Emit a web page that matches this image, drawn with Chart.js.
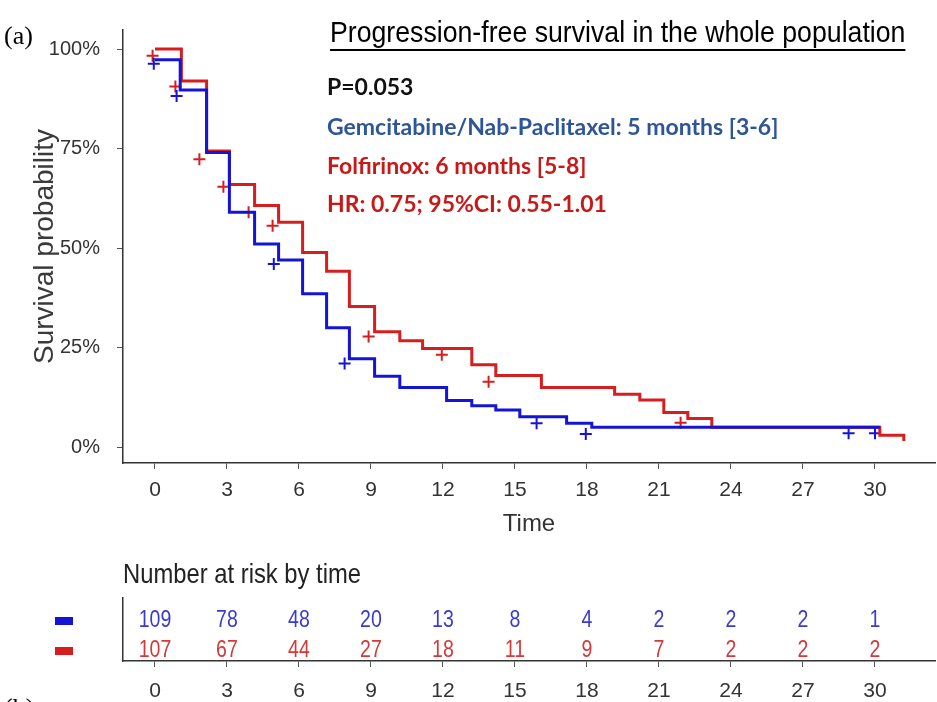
<!DOCTYPE html>
<html>
<head>
<meta charset="utf-8">
<script src="https://cdn.jsdelivr.net/npm/chart.js@4.4.1/dist/chart.umd.min.js"></script>
<style>
  html, body { margin: 0; padding: 0; background: #fff; }
  #wrap { position: relative; width: 937px; height: 702px; overflow: hidden; }
  #kmCanvas { position: absolute; left: 0; top: 0; }
  #riskCanvas { position: absolute; left: 0; top: 545px; }
</style>
</head>
<body>
<div id="wrap">
  <canvas id="kmCanvas" width="937" height="545"></canvas>
  <canvas id="riskCanvas" width="937" height="157"></canvas>
</div>
<script>
// time ticks (months)
const timeTicks = [0, 3, 6, 9, 12, 15, 18, 21, 24, 27, 30]
const survTicks = [0, 25, 50, 75, 100]

// Gemcitabine/Nab-Paclitaxel (blue) - step start times and survival (%)
const blueTime = [0, 1.05, 2.15, 3.1, 4.15, 5.15, 6.15, 7.15, 8.1, 9.15, 10.2, 12.15, 13.2, 14.2, 15.2, 17.15, 18.2, 30.2]
const blueSurv = [97.3, 89.7, 74, 59, 51, 47, 38.5, 30, 22.2, 17.8, 15, 11.7, 10.4, 9.3, 7.6, 6, 5, 5]
const blueCensorTime = [-0.05, 0.9, 4.95, 7.9, 15.9, 17.95, 28.9, 30]
const blueCensorSurv = [96.3, 88.2, 46, 21, 6, 3.3, 3.5, 3.5]

// Folfirinox (red)
const redTime = [0, 1.1, 2.15, 3.1, 4.15, 5.15, 6.15, 7.15, 8.1, 9.15, 10.2, 11.15, 13.2, 14.2, 16.1, 19.15, 20.2, 21.2, 22.2, 23.2, 30.2, 31.2]
const redSurv = [100, 92, 74.4, 66, 60.7, 56.5, 48.9, 44.2, 35.3, 29, 26.7, 24.8, 20.7, 18, 15, 13.3, 11.8, 8.7, 7.2, 5, 3, 1.5]
const redCensorTime = [-0.1, 0.85, 1.85, 2.85, 3.9, 4.9, 8.9, 11.95, 13.9, 21.9]
const redCensorSurv = [98.3, 90.6, 72.3, 65.4, 59, 55.6, 27.8, 23.2, 16.4, 6.1]

// number at risk
const blueRisk = [109, 78, 48, 20, 13, 8, 4, 2, 2, 2, 1]
const redRisk = [107, 67, 44, 27, 18, 11, 9, 7, 2, 2, 2]

const BLUE = '#1414d6'
const RED = '#d61e1e'
const sans = '"Liberation Sans", Arial, sans-serif'
const axisGrey = '#333'

const zip = (xs, ys) => xs.map((x, i) => ({ x: x, y: ys[i] }))

// squeeze text horizontally to look like Arial Narrow
function narrowText(c, txt, x, y, sx) {
  c.save()
  c.translate(x, y)
  c.scale(sx, 1)
  c.fillText(txt, 0, 0)
  const w = c.measureText(txt).width * sx
  c.restore()
  return w
}

const textPlugin = {
  id: 'kmText',
  afterDraw(chart) {
    const c = chart.ctx
    c.save()
    c.textBaseline = 'alphabetic'
    c.textAlign = 'left'
    c.fillStyle = '#000'
    c.font = '26px "Liberation Serif", "Times New Roman", serif'
    c.fillText('(a)', 4, 44)

    c.font = '29px ' + sans
    const w = narrowText(c, 'Progression-free survival in the whole population', 330, 42, 0.92)
    c.fillRect(330, 49, w, 2)

    c.font = 'bold 23px Lato, "Open Sans", sans-serif'
    c.fillStyle = '#111'
    c.fillText('P=0.053', 327, 95)
    c.fillStyle = '#2d5597'
    c.fillText('Gemcitabine/Nab-Paclitaxel: 5 months [3-6]', 327, 135)
    c.fillStyle = '#c81818'
    c.fillText('Folfirinox: 6 months [5-8]', 327, 174)
    c.fillText('HR: 0.75; 95%CI: 0.55-1.01', 327, 212)
    c.restore()
  }
}

const noPad = s => { s.paddingLeft = 0; s.paddingRight = 0 }

const kmChart = new Chart(document.getElementById('kmCanvas'), {
  type: 'line',
  data: {
    datasets: [
      { data: zip(blueTime, blueSurv), borderColor: BLUE, borderWidth: 3, stepped: 'before', pointRadius: 0, fill: false },
      { data: zip(redTime, redSurv), borderColor: RED, borderWidth: 3, stepped: 'before', pointRadius: 0, fill: false },
      { data: zip(blueCensorTime, blueCensorSurv), showLine: false, pointStyle: 'cross', pointRadius: 6, borderWidth: 2, borderColor: BLUE },
      { data: zip(redCensorTime, redCensorSurv), showLine: false, pointStyle: 'cross', pointRadius: 6, borderWidth: 2, borderColor: RED }
    ]
  },
  options: {
    responsive: false,
    animation: false,
    layout: { autoPadding: false, padding: { top: 30, right: 2, left: 0, bottom: 0 } },
    plugins: { legend: { display: false }, tooltip: { enabled: false } },
    scales: {
      x: {
        type: 'linear',
        min: -1.333,
        max: 32.5,
        afterBuildTicks: s => { s.ticks = timeTicks.map(v => ({ value: v })) },
        afterFit: s => { s.height = 82; noPad(s) },
        grid: { drawOnChartArea: false, tickLength: 6, color: '#555' },
        border: { color: axisGrey, width: 1.5 },
        ticks: { color: axisGrey, font: { family: sans, size: 21 }, padding: 9, maxRotation: 0 },
        title: { display: true, text: 'Time', color: axisGrey, font: { family: sans, size: 24 }, padding: { top: 0, bottom: 6 } }
      },
      y: {
        min: -4,
        max: 104.8,
        afterBuildTicks: s => { s.ticks = survTicks.map(v => ({ value: v })) },
        afterFit: s => { s.width = 123 },
        grid: { drawOnChartArea: false, tickLength: 6, color: '#555' },
        border: { color: axisGrey, width: 1.5 },
        ticks: { color: axisGrey, font: { family: sans, size: 20 }, padding: 17, callback: v => v + '%' },
        title: { display: true, text: 'Survival probability', color: '#3a3a3a', font: { family: sans, size: 28 }, padding: { top: 28, bottom: 0 } }
      }
    }
  },
  plugins: [textPlugin]
})

const riskPlugin = {
  id: 'riskText',
  afterDraw(chart) {
    const c = chart.ctx
    c.save()
    c.fillStyle = '#222'
    c.font = '28px ' + sans
    c.textAlign = 'left'
    c.textBaseline = 'alphabetic'
    narrowText(c, 'Number at risk by time', 123, 38, 0.85)

    const rows = [[0, BLUE, '#3a3ad0', blueRisk], [1, RED, '#d03a3a', redRisk]]
    c.font = '23px ' + sans
    c.textAlign = 'center'
    c.textBaseline = 'middle'
    rows.forEach(([di, lineCol, txtCol, vals]) => {
      const meta = chart.getDatasetMeta(di)
      c.fillStyle = txtCol
      meta.data.forEach((pt, j) => narrowText(c, String(vals[j]), pt.x, pt.y, 0.85))
      const py = meta.data[0].y
      c.fillStyle = lineCol
      c.fillRect(55, py - 4, 18, 8)
    })

    c.fillStyle = '#000'
    c.textAlign = 'left'
    c.textBaseline = 'alphabetic'
    c.font = '26px "Liberation Serif", "Times New Roman", serif'
    c.fillText('(b)', 4, 171)
    c.restore()
  }
}

const riskChart = new Chart(document.getElementById('riskCanvas'), {
  type: 'scatter',
  data: {
    datasets: [
      { data: timeTicks.map(t => ({ x: t, y: 4 })), pointRadius: 0 },
      { data: timeTicks.map(t => ({ x: t, y: 1 })), pointRadius: 0 }
    ]
  },
  options: {
    responsive: false,
    animation: false,
    layout: { autoPadding: false, padding: { top: 53, right: 2, left: 0, bottom: 0 } },
    plugins: { legend: { display: false }, tooltip: { enabled: false } },
    scales: {
      x: {
        type: 'linear',
        min: -1.333,
        max: 32.5,
        afterBuildTicks: s => { s.ticks = timeTicks.map(v => ({ value: v })) },
        afterFit: s => { s.height = 41; noPad(s) },
        grid: { drawOnChartArea: false, tickLength: 6, color: '#555' },
        border: { color: axisGrey, width: 1.5 },
        ticks: { color: axisGrey, font: { family: sans, size: 21 }, padding: 12, maxRotation: 0 }
      },
      y: {
        min: 0,
        max: 6.3,
        afterFit: s => { s.width = 123 },
        grid: { display: false },
        border: { color: axisGrey, width: 1.5 },
        ticks: { display: false }
      }
    }
  },
  plugins: [riskPlugin]
})
</script>
</body>
</html>
